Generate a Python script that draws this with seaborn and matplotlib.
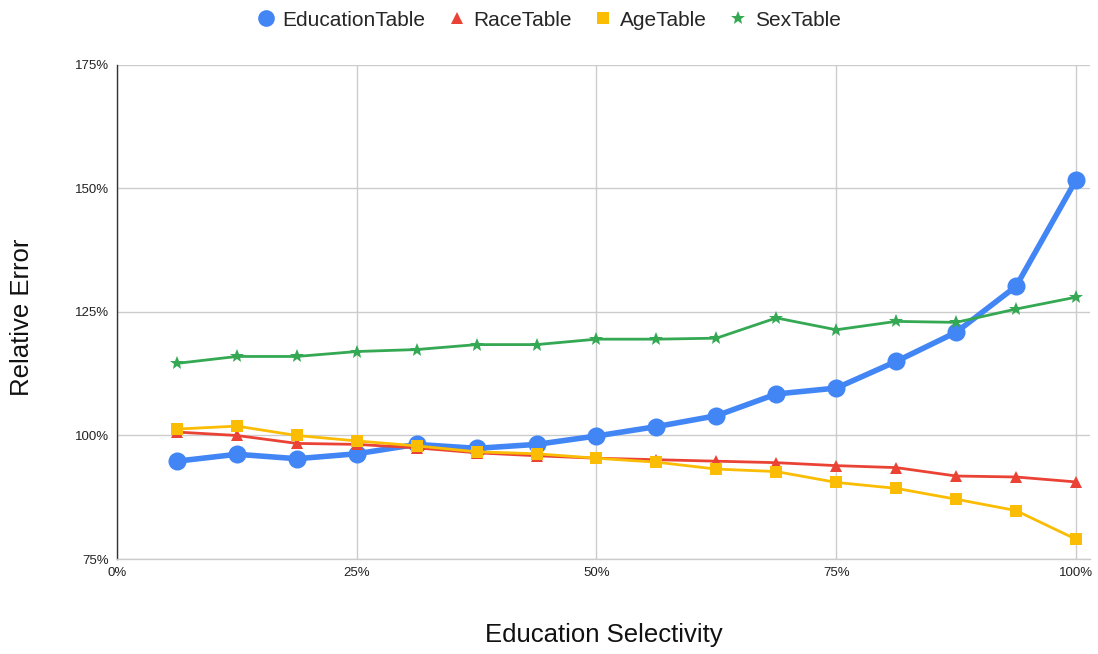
import matplotlib
matplotlib.use("Agg")
import matplotlib.pyplot as plt
from matplotlib.lines import Line2D
from matplotlib.ticker import PercentFormatter, MultipleLocator
import seaborn as sns
import pandas as pd

# Education selectivity (fraction) and relative error (%) per table
selectivity = [0.0625, 0.125, 0.1875, 0.25, 0.3125, 0.375, 0.4375, 0.5,
               0.5625, 0.625, 0.6875, 0.75, 0.8125, 0.875, 0.9375, 1.0]
education_err = [94.8, 96.2, 95.3, 96.3, 98.2, 97.4, 98.2, 99.9,
                 101.8, 104.0, 108.4, 109.6, 115.0, 120.9, 130.2, 151.7]
race_err = [100.7, 100.0, 98.4, 98.2, 97.5, 96.5, 95.9, 95.4,
            95.1, 94.8, 94.5, 93.9, 93.5, 91.8, 91.6, 90.6]
age_err = [101.3, 101.9, 100.0, 98.9, 97.9, 96.7, 96.3, 95.4,
           94.6, 93.2, 92.7, 90.5, 89.3, 87.1, 84.8, 79.0]
sex_err = [114.6, 116.0, 116.0, 117.0, 117.4, 118.4, 118.4, 119.5,
           119.5, 119.7, 123.8, 121.4, 123.1, 122.9, 125.6, 128.0]

series_names = ["EducationTable", "RaceTable", "AgeTable", "SexTable"]
series_values = [education_err, race_err, age_err, sex_err]
colors = ["#4285F4", "#EA4335", "#FBBC04", "#34A853"]
markers = ["o", "^", "s", "*"]
marker_sizes = [13, 8.5, 8, 10]
line_widths = [4, 2, 2, 2]

sns.set_theme(style="white")
plt.rcParams["font.family"] = ["Liberation Sans", "DejaVu Sans"]

fig = plt.figure(figsize=(10.98, 6.54), dpi=100)
ax = fig.add_axes([117 / 1098, 1 - 559 / 654, (1090 - 117) / 1098, (559 - 65) / 654])

for name, vals, c, m, ms, lw in zip(series_names, series_values, colors,
                                    markers, marker_sizes, line_widths):
    df = pd.DataFrame({"x": selectivity, "y": vals})
    sns.lineplot(data=df, x="x", y="y", ax=ax, color=c, marker=m,
                 markersize=ms, linewidth=lw, markeredgewidth=0, legend=False)

ax.set_xlim(0, 1.0146)
ax.set_ylim(75, 175)
ax.xaxis.set_major_locator(MultipleLocator(0.25))
ax.yaxis.set_major_locator(MultipleLocator(25))
ax.xaxis.set_major_formatter(PercentFormatter(xmax=1.0, decimals=0))
ax.yaxis.set_major_formatter(PercentFormatter(xmax=100, decimals=0))
ax.grid(True, color="#cccccc", linewidth=1)
ax.set_axisbelow(True)
ax.tick_params(axis="both", labelsize=9.5, colors="#222222", length=0, pad=6)

for side in ["top", "right"]:
    ax.spines[side].set_visible(False)
ax.spines["left"].set_color("#333333")
ax.spines["left"].set_linewidth(1)
ax.spines["bottom"].set_color("#cccccc")
ax.spines["bottom"].set_linewidth(1)

ax.set_xlabel("Education Selectivity", fontsize=18.5, color="#111111", va="center")
ax.set_ylabel("Relative Error", fontsize=18.5, color="#111111", va="center")
ax.xaxis.set_label_coords((604 - 117) / 973, -(635 - 559) / 494)
ax.yaxis.set_label_coords(-(117 - 22) / 973, (559 - 317) / 494)

handles = [Line2D([0], [0], linestyle="none", marker=m, color=c,
                  markersize=s, markeredgewidth=0)
           for m, c, s in zip(markers, colors, [12, 8, 8, 10])]
fig.legend(handles, series_names, loc="center", bbox_to_anchor=(548 / 1098, 1 - 20 / 654),
           ncol=4, frameon=False, fontsize=15, handletextpad=0.3,
           columnspacing=1.0, handlelength=1.0)

fig.savefig("out.png", dpi=100)
